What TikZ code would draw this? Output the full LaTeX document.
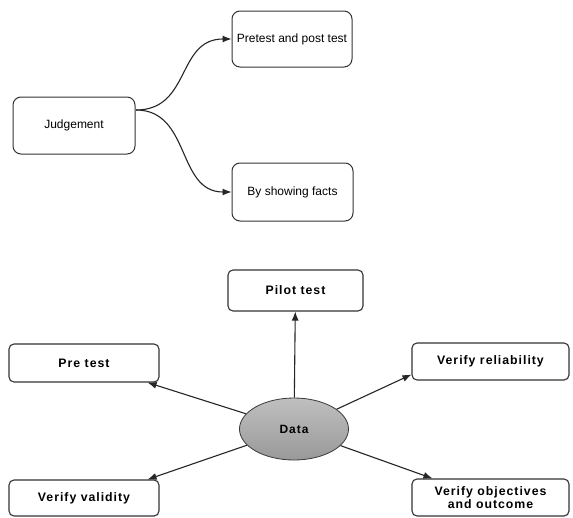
\documentclass[tikz,border=0pt]{standalone}
\usepackage{fontspec}
\setmainfont{Liberation Sans}
\newfontfamily\boxfont[LetterSpace=8]{Liberation Sans}
\usetikzlibrary{arrows.meta,shapes.geometric}
\begin{document}
\begin{tikzpicture}[x=1pt,y=-1pt,
  topbox/.style={draw=black!80, line width=1pt, rounded corners=8pt, minimum width=120pt, minimum height=56pt, inner sep=0pt, font=\fontsize{12}{14}\selectfont},
  botbox/.style={draw=black!80, line width=1.1pt, rounded corners=5pt, inner sep=0pt, align=center, font=\boxfont\bfseries\fontsize{12.3}{12.8}\selectfont},
  arr/.style={-{Latex[length=9pt,width=7pt]}, line width=1.1pt, draw=black!85}]
\fill[white] (0,0) rectangle (573,517);
\useasboundingbox (0,0) rectangle (573,517);
% top part
\node[topbox, minimum width=122pt, minimum height=57pt] (judge) at (74,125.5) {Judgement};
\node[topbox] (pre) at (292,39) {Pretest and post test};
\node[topbox, minimum width=121pt, minimum height=58pt] (facts) at (292.5,192) {By showing facts};
\coordinate (js) at (136,110);
\draw[arr] (js) .. controls +(55,0) and +(-55,0) .. (pre.west);
\draw[arr] (js) .. controls +(55,0) and +(-55,0) .. (facts.west);
% bottom part
\node[botbox, minimum width=135pt, minimum height=41pt] (pilot) at (295.5,290.5) {Pilot test};
\node[botbox, minimum width=150pt, minimum height=38pt] (pret) at (84,363) {Pre test};
\node[botbox, minimum width=157pt, minimum height=37pt] (rel) at (490.5,361.5) {Verify reliability};
\node[botbox, minimum width=150pt, minimum height=36pt] (val) at (84,498) {Verify validity};
\node[botbox, minimum width=157pt, minimum height=37pt] (obj) at (490.5,497.5) {Verify objectives\\and outcome};
\node[ellipse, draw=gray!45!black, line width=0.8pt, minimum width=109pt, minimum height=62pt, inner sep=0pt, top color=gray!50, bottom color=gray!80, font=\boxfont\bfseries\fontsize{12}{12}\selectfont] (data) at (294,429) {Data};
\draw[arr] (data) -- (pilot);
\draw[arr] (data) -- ([xshift=-12pt]pret.south east);
\draw[arr] (data) -- ([xshift=-12pt]val.north east);
\draw[arr] (data) -- ([yshift=6pt]rel.south west);
\draw[arr] (data) -- ([xshift=21pt]obj.north west);
\end{tikzpicture}
\end{document}
